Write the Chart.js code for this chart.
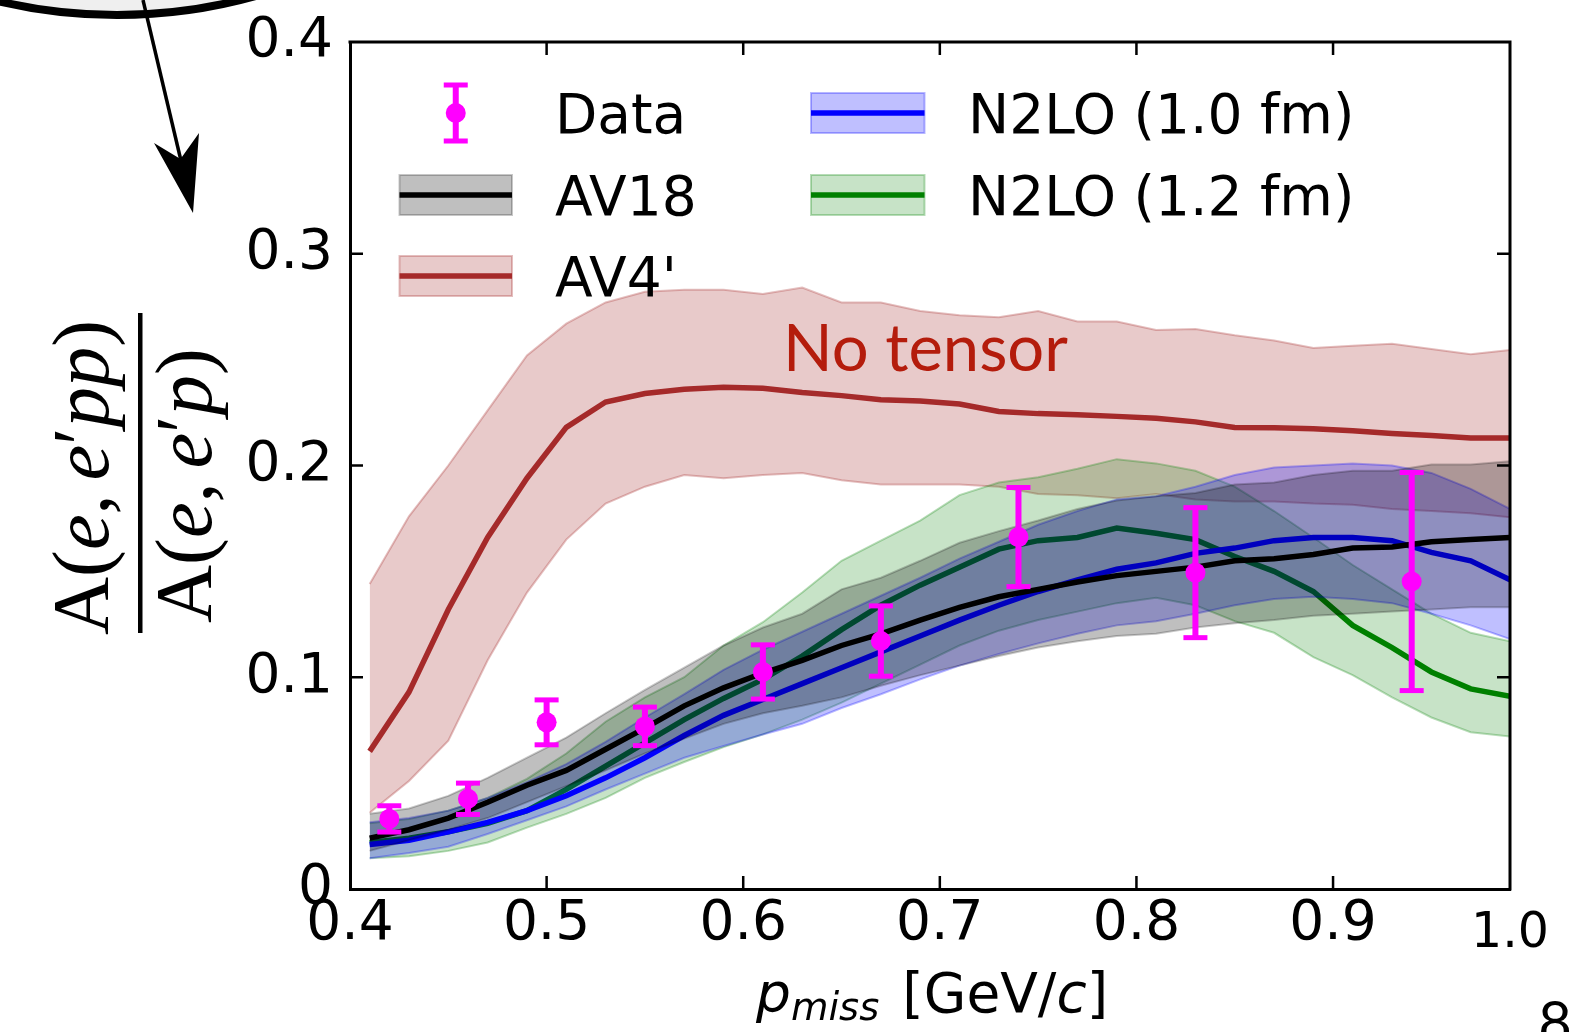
<!DOCTYPE html>
<html><head><meta charset="utf-8">
<script src="https://cdn.jsdelivr.net/npm/chart.js@4.4.1/dist/chart.umd.min.js"></script>
<style>html,body{margin:0;padding:0;background:#fff;}canvas{display:block;}</style>
</head><body>
<canvas id="c" width="1584" height="1032"></canvas>
<script>
// ---------------- data ----------------
const pGrid = [0.41,0.43,0.45,0.47,0.49,0.51,0.53,0.55,0.57,0.59,0.61,0.63,0.65,0.67,0.69,0.71,0.73,0.75,0.77,0.79,0.81,0.83,0.85,0.87,0.89,0.91,0.93,0.95,0.97,0.99];

const av4Mid = [0.065,0.093,0.132,0.166,0.194,0.218,0.230,0.234,0.236,0.237,0.2365,0.2345,0.233,0.231,0.2305,0.229,0.2255,0.2245,0.224,0.2232,0.2223,0.2206,0.218,0.2178,0.2174,0.2164,0.2151,0.2142,0.213,0.213];
const av4Hi  = [0.144,0.176,0.200,0.226,0.252,0.267,0.277,0.282,0.283,0.283,0.281,0.284,0.277,0.277,0.273,0.271,0.270,0.273,0.268,0.268,0.264,0.2645,0.2615,0.259,0.2555,0.2565,0.2575,0.255,0.2525,0.2545];
const av4Lo  = [0.036,0.051,0.070,0.108,0.140,0.165,0.182,0.190,0.1955,0.194,0.1955,0.1965,0.193,0.191,0.191,0.191,0.190,0.1865,0.186,0.1845,0.1865,0.184,0.183,0.183,0.182,0.1815,0.1795,0.1785,0.1775,0.1755];

const av18Mid = [0.024,0.028,0.0335,0.041,0.049,0.056,0.066,0.076,0.0865,0.095,0.102,0.108,0.115,0.1205,0.127,0.133,0.138,0.1415,0.145,0.148,0.150,0.152,0.155,0.156,0.158,0.161,0.1615,0.164,0.165,0.166];
const av18Hi  = [0.0355,0.038,0.044,0.0525,0.062,0.0715,0.083,0.094,0.1045,0.115,0.1235,0.130,0.1415,0.147,0.155,0.1635,0.169,0.174,0.1795,0.1835,0.1855,0.187,0.191,0.192,0.1955,0.1975,0.1975,0.2005,0.2005,0.202];
const av18Lo  = [0.018,0.023,0.028,0.0335,0.041,0.0485,0.056,0.064,0.071,0.078,0.083,0.0865,0.0905,0.096,0.101,0.1055,0.110,0.114,0.117,0.1195,0.1205,0.1235,0.1255,0.127,0.129,0.130,0.131,0.132,0.133,0.133];

const n10Mid = [0.021,0.023,0.027,0.0315,0.037,0.044,0.0525,0.062,0.0725,0.082,0.0895,0.097,0.1045,0.112,0.1195,0.127,0.134,0.1405,0.146,0.151,0.154,0.1585,0.161,0.1645,0.166,0.166,0.1645,0.159,0.155,0.146];
const n10Hi  = [0.0315,0.0335,0.037,0.043,0.0505,0.059,0.0695,0.081,0.092,0.1035,0.113,0.1215,0.130,0.1385,0.147,0.156,0.164,0.172,0.1785,0.184,0.1855,0.190,0.1955,0.199,0.200,0.201,0.200,0.1965,0.189,0.1795];
const n10Lo  = [0.0145,0.017,0.020,0.026,0.0325,0.039,0.047,0.0545,0.062,0.0675,0.073,0.078,0.0855,0.092,0.099,0.1055,0.111,0.116,0.1205,0.1245,0.1265,0.130,0.134,0.137,0.138,0.137,0.135,0.130,0.1245,0.118];

const n12Mid = [0.022,0.024,0.027,0.031,0.037,0.047,0.058,0.069,0.080,0.090,0.099,0.110,0.1225,0.134,0.1435,0.152,0.1605,0.1645,0.166,0.1705,0.168,0.165,0.157,0.150,0.1405,0.1245,0.114,0.1025,0.0945,0.091];
const n12Hi  = [0.031,0.033,0.037,0.043,0.052,0.064,0.079,0.0905,0.100,0.115,0.126,0.140,0.155,0.1645,0.174,0.186,0.192,0.1945,0.1985,0.203,0.201,0.1975,0.190,0.1785,0.166,0.153,0.1415,0.130,0.121,0.117];
const n12Lo  = [0.0145,0.0155,0.018,0.022,0.029,0.0355,0.043,0.0525,0.060,0.067,0.073,0.080,0.088,0.097,0.106,0.115,0.122,0.127,0.131,0.135,0.1375,0.134,0.1265,0.121,0.1095,0.101,0.0905,0.081,0.074,0.072];

const dataX   = [0.42,0.46,0.50,0.55,0.61,0.67,0.74,0.83,0.94];
const dataY   = [0.0331,0.0426,0.0787,0.0768,0.1025,0.1171,0.1662,0.1494,0.1452];
const dataErr = [0.0062,0.0074,0.0106,0.0091,0.0128,0.0166,0.0234,0.0307,0.0515];

const xTickValues = [0.4,0.5,0.6,0.7,0.8,0.9,0.99];
const xTickLabels = ['0.4','0.5','0.6','0.7','0.8','0.9','1.0'];
const yTickValues = [0,0.1,0.2,0.3,0.4];
const yTickLabels = ['0','0.1','0.2','0.3','0.4'];

const legendLabels = ['Data','AV18',"AV4'",'N2LO (1.0 fm)','N2LO (1.2 fm)'];
const annotationText = 'No tensor';

// ---------------- styles ----------------
const MAG = '#ff00ff';
const S = {
  av18: {line:'#000000', fill:'rgba(0,0,0,0.25)', edge:'rgba(0,0,0,0.22)'},
  av4:  {line:'#a52a2a', fill:'rgba(165,42,42,0.25)', edge:'rgba(165,42,42,0.30)'},
  n10:  {line:'#0000ff', fill:'rgba(0,0,255,0.25)', edge:'rgba(0,0,255,0.28)'},
  n12:  {line:'#008000', fill:'rgba(0,128,0,0.22)', edge:'rgba(0,128,0,0.28)'}
};
const LW = 5.5;

const pts = ys => pGrid.map((x,i)=>({x:x, y:ys[i]}));
function band(lo, hi, st, order){
  return [
    {type:'line', data:pts(hi), fill:'+1', backgroundColor:st.fill, borderColor:st.edge, borderWidth:2, pointRadius:0, tension:0, order:order},
    {type:'line', data:pts(lo), fill:false, borderColor:st.edge, borderWidth:2, pointRadius:0, tension:0, order:order}
  ];
}
function curve(ys, st, order){
  return {type:'line', data:pts(ys), fill:false, borderColor:st.line, borderWidth:LW, pointRadius:0, tension:0, order:order};
}
const stems = [];
dataX.forEach((x,i)=>{ stems.push({x:x,y:dataY[i]-dataErr[i]}); stems.push({x:x,y:dataY[i]+dataErr[i]}); stems.push({x:x,y:null}); });
const caps = [];
dataX.forEach((x,i)=>{ caps.push({x:x,y:dataY[i]-dataErr[i]}); caps.push({x:x,y:dataY[i]+dataErr[i]}); });
const marks = dataX.map((x,i)=>({x:x,y:dataY[i]}));

const datasets = [
  ...band(av4Lo, av4Hi, S.av4, 10), curve(av4Mid, S.av4, 9),
  ...band(n12Lo, n12Hi, S.n12, 8), curve(n12Mid, S.n12, 7),
  ...band(n10Lo, n10Hi, S.n10, 6), curve(n10Mid, S.n10, 5),
  ...band(av18Lo, av18Hi, S.av18, 4), curve(av18Mid, S.av18, 3),
  {type:'line', data:stems, spanGaps:false, borderColor:MAG, borderWidth:6, pointRadius:0, fill:false, order:2},
  {type:'line', data:caps, showLine:false, pointStyle:'line', pointRadius:12, pointBorderWidth:5, pointBorderColor:MAG, pointBackgroundColor:MAG, order:1},
  {type:'line', data:marks, showLine:false, pointStyle:'circle', pointRadius:10, pointBorderWidth:0, pointBackgroundColor:MAG, order:0}
];

// ---------------- plugins ----------------
const TICKFONT = '"DejaVu Sans", sans-serif';

const framePlugin = {
  id:'frame',
  afterDraw(chart){
    const {ctx, chartArea:a, scales:{x, y}} = chart;
    ctx.save();
    ctx.strokeStyle = '#000'; ctx.lineWidth = 3; ctx.lineCap='square';
    ctx.beginPath(); ctx.moveTo(a.left, a.top); ctx.lineTo(a.right, a.top); ctx.lineTo(a.right, a.bottom); ctx.stroke();
    ctx.lineWidth = 2.5; ctx.lineCap='butt';
    const L = 13;
    x.ticks.forEach(t=>{
      if (t.value <= 0.4 || t.value >= 0.99) return;
      const p = x.getPixelForValue(t.value);
      ctx.beginPath(); ctx.moveTo(p, a.bottom); ctx.lineTo(p, a.bottom - L);
      ctx.moveTo(p, a.top); ctx.lineTo(p, a.top + L); ctx.stroke();
    });
    y.ticks.forEach(t=>{
      if (t.value <= 0 || t.value >= 0.4) return;
      const p = y.getPixelForValue(t.value);
      ctx.beginPath(); ctx.moveTo(a.left, p); ctx.lineTo(a.left + L, p);
      ctx.moveTo(a.right, p); ctx.lineTo(a.right - L, p); ctx.stroke();
    });
    ctx.restore();
  }
};

const legendPlugin = {
  id:'customLegend',
  afterDraw(chart){
    const ctx = chart.ctx;
    const cols = [{x0:399.5, x1:512, tx:555}, {x0:811, x1:924.5, tx:968}];
    const rows = [113, 195, 276];
    const entries = [
      {label:legendLabels[0], col:0, row:0, kind:'data'},
      {label:legendLabels[1], col:0, row:1, st:S.av18},
      {label:legendLabels[2], col:0, row:2, st:S.av4},
      {label:legendLabels[3], col:1, row:0, st:S.n10},
      {label:legendLabels[4], col:1, row:1, st:S.n12}
    ];
    ctx.save();
    entries.forEach(e=>{
      const c = cols[e.col], cy = rows[e.row];
      if (e.kind === 'data'){
        const cx = (c.x0 + c.x1)/2;
        ctx.strokeStyle = MAG; ctx.fillStyle = MAG;
        ctx.lineWidth = 6; ctx.beginPath(); ctx.moveTo(cx, cy-28); ctx.lineTo(cx, cy+28); ctx.stroke();
        ctx.lineWidth = 5; ctx.beginPath(); ctx.moveTo(cx-12, cy-28); ctx.lineTo(cx+12, cy-28);
        ctx.moveTo(cx-12, cy+28); ctx.lineTo(cx+12, cy+28); ctx.stroke();
        ctx.beginPath(); ctx.arc(cx, cy, 10, 0, Math.PI*2); ctx.fill();
      } else {
        ctx.fillStyle = e.st.fill; ctx.fillRect(c.x0, cy-20, c.x1-c.x0, 40);
        ctx.strokeStyle = e.st.edge; ctx.lineWidth = 2; ctx.strokeRect(c.x0, cy-20, c.x1-c.x0, 40);
        ctx.strokeStyle = e.st.line; ctx.lineWidth = LW;
        ctx.beginPath(); ctx.moveTo(c.x0, cy); ctx.lineTo(c.x1, cy); ctx.stroke();
      }
      ctx.fillStyle = '#000'; ctx.font = '55px ' + TICKFONT; ctx.textBaseline = 'alphabetic'; ctx.textAlign='left';
      ctx.fillText(e.label, c.tx, cy + 20);
    });
    ctx.restore();
  }
};

function drawSegs(ctx, segs, size, family, measureOnly){
  let cx = 0;
  segs.forEach(s=>{
    const sz = size * (s.scale || 1);
    ctx.font = (s.it ? 'italic ' : '') + sz + 'px ' + family;
    if (!measureOnly) ctx.fillText(s.t, cx, (s.dy || 0) * size);
    cx += ctx.measureText(s.t).width + (s.sp || 0) * size;
  });
  return cx;
}

const textPlugin = {
  id:'texts',
  afterDraw(chart){
    const ctx = chart.ctx;
    ctx.save();
    ctx.textBaseline = 'alphabetic'; ctx.textAlign = 'left'; ctx.fillStyle = '#000';
    // y-axis label: fraction
    const SERIF = '"Liberation Serif", "DejaVu Serif", serif';
    const num = [{t:'A'},{t:'('},{t:'e',it:true},{t:',',sp:0.17},{t:'e',it:true},{t:'\u2032'},{t:'pp',it:true},{t:')'}];
    const den = [{t:'A'},{t:'('},{t:'e',it:true},{t:',',sp:0.17},{t:'e',it:true},{t:'\u2032'},{t:'p',it:true},{t:')'}];
    let base = 77;
    const w = drawSegs(ctx, num, base, SERIF, true);
    const fs = base * 315 / w;
    ctx.save(); ctx.translate(108, 635); ctx.rotate(-Math.PI/2); drawSegs(ctx, num, fs, SERIF, false); ctx.restore();
    ctx.save(); ctx.translate(211, 623); ctx.rotate(-Math.PI/2); drawSegs(ctx, den, fs, SERIF, false); ctx.restore();
    ctx.fillRect(138, 313, 4.5, 320);
    // x-axis title
    const xt = [{t:'p',it:true},{t:'miss',it:true,scale:0.7,dy:0.15,sp:0.42},{t:'[GeV/'},{t:'c',it:true},{t:']'}];
    ctx.save(); ctx.translate(756, 1012); drawSegs(ctx, xt, 55, TICKFONT, false); ctx.restore();
    // annotation
    ctx.fillStyle = '#b41c0c';
    ctx.font = '64px Lato, "Open Sans", sans-serif';
    const aw = ctx.measureText(annotationText).width;
    const asz = 64 * 285 / aw;
    ctx.font = asz + 'px Lato, "Open Sans", sans-serif';
    ctx.fillText(annotationText, 783, 371);
    // page number
    ctx.fillStyle = '#000'; ctx.textAlign = 'center';
    ctx.font = '58px Lato, "Open Sans", sans-serif';
    ctx.fillText('8', 1555, 1043);
    // decorative circle and arrow (top-left)
    ctx.beginPath(); ctx.arc(117, -500, 515, 0, Math.PI*2);
    ctx.fillStyle = '#efefef'; ctx.fill();
    ctx.lineWidth = 8; ctx.strokeStyle = '#000'; ctx.stroke();
    ctx.lineWidth = 3.5; ctx.beginPath(); ctx.moveTo(143, 0); ctx.lineTo(182, 165); ctx.stroke();
    ctx.fillStyle = '#000'; ctx.beginPath();
    ctx.moveTo(193, 213); ctx.lineTo(154, 143); ctx.lineTo(180.5, 159); ctx.lineTo(199, 133); ctx.closePath(); ctx.fill();
    ctx.restore();
  }
};

// ---------------- chart ----------------
new Chart(document.getElementById('c'), {
  type:'line',
  data:{datasets:datasets},
  options:{
    responsive:false, animation:false, devicePixelRatio:1,
    layout:{padding:{left:0, right:74, top:42, bottom:0}},
    plugins:{legend:{display:false}, tooltip:{enabled:false}, filler:{propagate:false}},
    scales:{
      x:{
        type:'linear', min:0.4, max:0.99, offset:false,
        afterBuildTicks:s=>{ s.ticks = xTickValues.map(v=>({value:v})); },
        afterFit:s=>{ s.height = 143; },
        grid:{display:false, drawTicks:false},
        border:{display:true, color:'#000', width:3},
        ticks:{
          autoSkip:false, maxRotation:0, minRotation:0, padding:3, color:'#000',
          callback:(v,i)=>xTickLabels[i],
          font:ctx=> ctx.index === xTickValues.length-1
            ? {family:TICKFONT, size:49, lineHeight:1.71}
            : {family:TICKFONT, size:55, lineHeight:1.2}
        }
      },
      y:{
        type:'linear', min:0, max:0.4,
        afterBuildTicks:s=>{ s.ticks = yTickValues.map(v=>({value:v})); },
        afterFit:s=>{ s.width = 350; },
        grid:{display:false, drawTicks:false},
        border:{display:true, color:'#000', width:3},
        ticks:{
          autoSkip:false, padding:17, color:'#000',
          callback:(v,i)=>yTickLabels[i],
          font:{family:TICKFONT, size:55, lineHeight:0.8}
        }
      }
    }
  },
  plugins:[framePlugin, legendPlugin, textPlugin]
});
</script>
</body></html>
